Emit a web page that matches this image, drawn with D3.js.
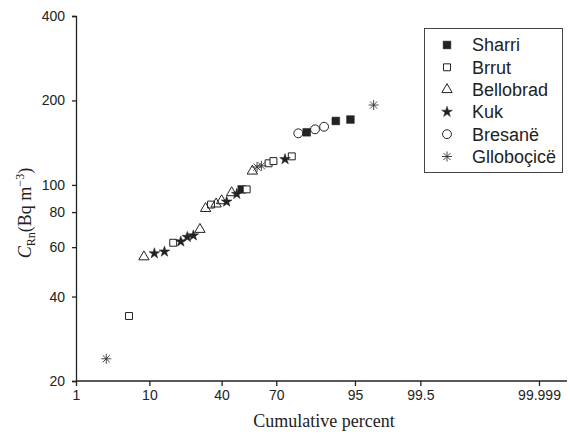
<!DOCTYPE html>
<html>
<head>
<meta charset="utf-8">
<script src="https://cdn.jsdelivr.net/npm/d3@7"></script>
<style>
  body { margin: 0; background: #fff; }
  svg { display: block; }
</style>
</head>
<body>
<div id="chart"></div>
<script>
// cumulative percent (x) and radon concentration in Bq m^-3 (y)
const sharriPct = [51.3, 83.1, 91.5, 94.3];
const sharriVal = [96.4, 154, 169, 171];
const brrutPct = [5.8, 17.3, 34.3, 54.1, 66.1, 68.6, 77.2];
const brrutVal = [34.1, 62.2, 85.1, 96.4, 119.4, 121.6, 126.4];
const bellobradPct = [8.7, 28.7, 31.5, 37.0, 40.0, 45.6, 57.3];
const bellobradVal = [55.4, 69.4, 82.4, 85.5, 87.8, 93.8, 112];
const kukPct = [11.3, 14.3, 20.2, 22.9, 25.6, 42.8, 48.5, 74.2];
const kukVal = [57.0, 57.8, 62.8, 65.2, 66.0, 87.1, 92.8, 123.4];
const bresanePct = [79.9, 85.9, 88.6];
const bresaneVal = [152.7, 157.8, 161.2];
const gllobocicePct = [2.9, 59.9, 62.3, 97.2];
const glloboiceVal = [24, 115.8, 117, 192.6];

const seriesNames = ["Sharri", "Brrut", "Bellobrad", "Kuk", "Bresanë", "Glloboçicë"];
const xTicks = [1, 10, 40, 70, 95, 99.5, 99.999];
const yTicks = [20, 40, 60, 80, 100, 200, 400];

const series = [
  { name: seriesNames[0], pct: sharriPct, val: sharriVal, shape: "square", filled: true },
  { name: seriesNames[1], pct: brrutPct, val: brrutVal, shape: "square", filled: false },
  { name: seriesNames[2], pct: bellobradPct, val: bellobradVal, shape: "triangle", filled: false },
  { name: seriesNames[3], pct: kukPct, val: kukVal, shape: "star", filled: true },
  { name: seriesNames[4], pct: bresanePct, val: bresaneVal, shape: "circle", filled: false },
  { name: seriesNames[5], pct: gllobocicePct, val: glloboiceVal, shape: "asterisk", filled: false }
];

// inverse normal CDF (Acklam) for the probability axis
function probit(p) {
  const a = [-3.969683028665376e+01, 2.209460984245205e+02, -2.759285104469687e+02, 1.383577518672690e+02, -3.066479806614716e+01, 2.506628277459239e+00];
  const b = [-5.447609879822406e+01, 1.615858368580409e+02, -1.556989798598866e+02, 6.680131188771972e+01, -1.328068155288572e+01];
  const c = [-7.784894002430293e-03, -3.223964580411365e-01, -2.400758277161838e+00, -2.549732539343734e+00, 4.374664141464968e+00, 2.938163982698783e+00];
  const d = [7.784695709041462e-03, 3.224671290700398e-01, 2.445134137142996e+00, 3.754408661907416e+00];
  const pl = 0.02425;
  let q, r;
  if (p < pl) {
    q = Math.sqrt(-2 * Math.log(p));
    return (((((c[0]*q+c[1])*q+c[2])*q+c[3])*q+c[4])*q+c[5]) / ((((d[0]*q+d[1])*q+d[2])*q+d[3])*q+1);
  } else if (p <= 1 - pl) {
    q = p - 0.5; r = q * q;
    return (((((a[0]*r+a[1])*r+a[2])*r+a[3])*r+a[4])*r+a[5])*q / (((((b[0]*r+b[1])*r+b[2])*r+b[3])*r+b[4])*r+1);
  } else {
    q = Math.sqrt(-2 * Math.log(1 - p));
    return -(((((c[0]*q+c[1])*q+c[2])*q+c[3])*q+c[4])*q+c[5]) / ((((d[0]*q+d[1])*q+d[2])*q+d[3])*q+1);
  }
}

const W = 570, H = 439;
const plotLeft = 76, plotRight = 539, plotTop = 16, plotBottom = 381, axisEnd = 567;
const ink = "#222";

const svg = d3.select("#chart").append("svg")
  .attr("width", W)
  .attr("height", H);

// x works in z-space, the ticks are placed at probit(p)
const xz = d3.scaleLinear()
  .domain([probit(xTicks[0] / 100), probit(xTicks[xTicks.length - 1] / 100)])
  .range([plotLeft, plotRight]);
const x = p => xz(probit(p / 100));

const y = d3.scaleLog()
  .domain([20, 400])
  .range([plotBottom, plotTop]);

// x axis
const xAxis = svg.append("g")
  .attr("transform", `translate(0,${plotBottom})`)
  .call(d3.axisBottom(xz)
    .tickValues(xTicks.map(p => probit(p / 100)))
    .tickFormat((d, i) => xTicks[i])
    .tickSizeOuter(0)
    .tickSize(5)
    .tickPadding(4));
xAxis.select(".domain").remove();
xAxis.append("line")
  .attr("x1", plotLeft).attr("x2", axisEnd)
  .attr("stroke", ink).attr("stroke-width", 1.3);

// y axis
const yAxis = svg.append("g")
  .attr("transform", `translate(${plotLeft},0)`)
  .call(d3.axisLeft(y)
    .tickValues(yTicks)
    .tickFormat(d3.format("d"))
    .tickSizeOuter(0)
    .tickSize(4)
    .tickPadding(7));

svg.selectAll(".tick line").attr("stroke", ink).attr("stroke-width", 1.3);
yAxis.select(".domain").attr("stroke", ink).attr("stroke-width", 1.3);
svg.selectAll(".tick text")
  .style("font-family", "'Liberation Sans', Arial, sans-serif")
  .style("font-size", "14px")
  .attr("fill", ink);

// axis titles
svg.append("text")
  .attr("x", 324)
  .attr("y", 427)
  .attr("text-anchor", "middle")
  .style("font-family", "'Liberation Serif', 'Times New Roman', serif")
  .style("font-size", "18px")
  .attr("fill", ink)
  .text("Cumulative percent");

const yTitle = svg.append("text")
  .attr("transform", "translate(31,213) rotate(-90)")
  .attr("text-anchor", "middle")
  .style("font-family", "'Liberation Serif', 'Times New Roman', serif")
  .style("font-size", "18px")
  .attr("fill", ink);
yTitle.append("tspan").style("font-style", "italic").text("C");
yTitle.append("tspan").attr("dy", 4).style("font-size", "12px").text("Rn");
yTitle.append("tspan").attr("dy", -4).text("(Bq m");
yTitle.append("tspan").attr("dy", -7).style("font-size", "12px").text("−3");
yTitle.append("tspan").attr("dy", 7).text(")");

// marker drawing
function drawMarker(g, shape, filled) {
  const stroke = "#222";
  if (shape === "square") {
    g.append("path")
      .attr("d", d3.symbol(d3.symbolSquare, filled ? 60 : 48)())
      .attr("fill", filled ? stroke : "#fff")
      .attr("stroke", stroke).attr("stroke-width", filled ? 0.5 : 1);
  } else if (shape === "triangle") {
    g.append("path")
      .attr("d", d3.symbol(d3.symbolTriangle, 46)())
      .attr("fill", "none")
      .attr("stroke", stroke).attr("stroke-width", 1);
  } else if (shape === "star") {
    g.append("path")
      .attr("d", d3.symbol(d3.symbolStar, 36)())
      .attr("fill", stroke)
      .attr("stroke", stroke).attr("stroke-width", 0.5);
  } else if (shape === "circle") {
    g.append("path")
      .attr("d", d3.symbol(d3.symbolCircle, 62)())
      .attr("fill", "none")
      .attr("stroke", stroke).attr("stroke-width", 1);
  } else if (shape === "asterisk") {
    const r = 5;
    const path = d3.path();
    [0, 45, 90, 135].forEach(a => {
      const t = a * Math.PI / 180;
      path.moveTo(-r * Math.cos(t), -r * Math.sin(t));
      path.lineTo(r * Math.cos(t), r * Math.sin(t));
    });
    g.append("path")
      .attr("d", path.toString())
      .attr("fill", "none")
      .attr("stroke", "#333").attr("stroke-width", 0.9);
  }
}

// points
series.forEach(s => {
  s.pct.forEach((p, i) => {
    const g = svg.append("g")
      .attr("transform", `translate(${x(p)},${y(s.val[i])})`);
    drawMarker(g, s.shape, s.filled);
  });
});

// legend
const legend = svg.append("g");
legend.append("rect")
  .attr("x", 424.5).attr("y", 28.5)
  .attr("width", 138).attr("height", 144)
  .attr("fill", "#fff")
  .attr("stroke", "#444").attr("stroke-width", 1);

series.forEach((s, i) => {
  const cy = 45 + i * 22.3;
  const g = legend.append("g").attr("transform", `translate(447,${cy})`);
  drawMarker(g, s.shape, s.filled);
  legend.append("text")
    .attr("x", 472)
    .attr("y", cy)
    .attr("dy", "0.36em")
    .style("font-family", "'Liberation Sans', Arial, sans-serif")
    .style("font-size", "18px")
    .attr("fill", ink)
    .text(s.name);
});
</script>
</body>
</html>
